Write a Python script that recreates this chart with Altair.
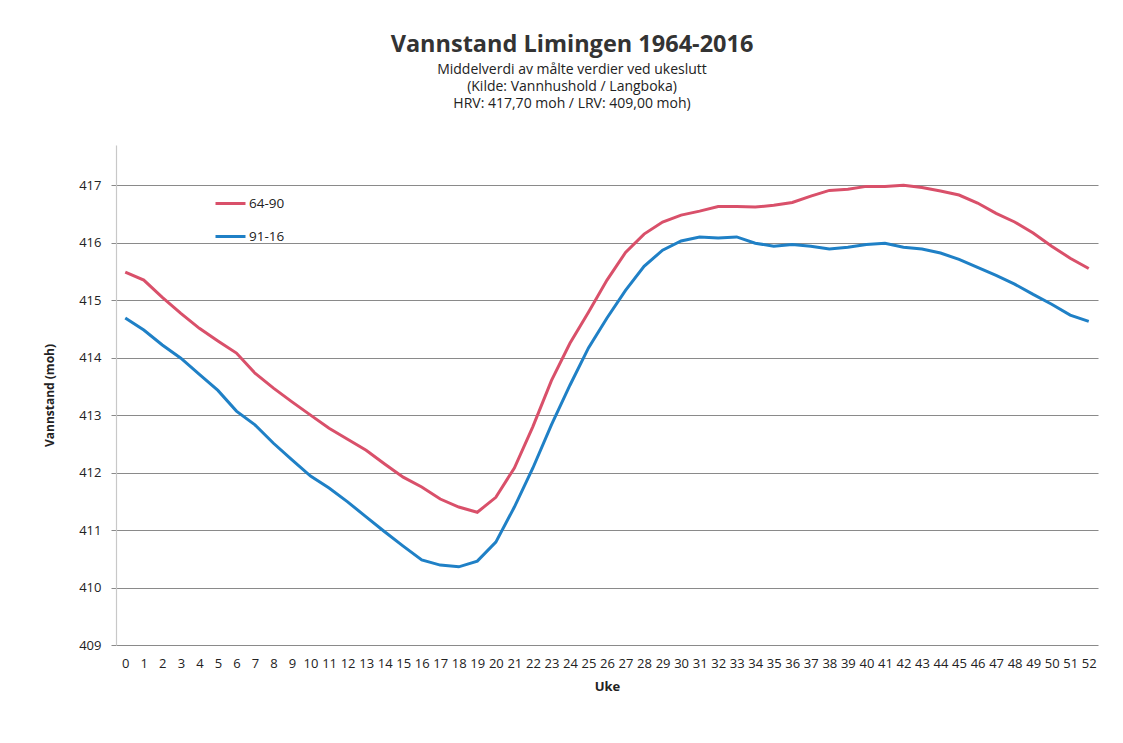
import altair as alt
import pandas as pd

weeks = list(range(53))
s_6490 = [415.49, 415.35, 415.05, 414.77, 414.51, 414.29, 414.08, 413.73, 413.47, 413.23,
          413.00, 412.77, 412.58, 412.39, 412.15, 411.92, 411.75, 411.54, 411.40, 411.31,
          411.57, 412.08, 412.80, 413.60, 414.25, 414.79, 415.35, 415.83, 416.15, 416.36,
          416.48, 416.55, 416.63, 416.63, 416.62, 416.65, 416.70, 416.81, 416.91, 416.93,
          416.98, 416.98, 417.00, 416.96, 416.90, 416.83, 416.69, 416.51, 416.36, 416.17,
          415.94, 415.73, 415.55]
s_9116 = [414.69, 414.48, 414.22, 413.99, 413.71, 413.43, 413.07, 412.83, 412.51, 412.22,
          411.94, 411.73, 411.49, 411.23, 410.97, 410.72, 410.48, 410.39, 410.36, 410.46,
          410.79, 411.40, 412.08, 412.83, 413.52, 414.17, 414.69, 415.17, 415.59, 415.87,
          416.03, 416.10, 416.08, 416.10, 415.99, 415.94, 415.97, 415.94, 415.89, 415.92,
          415.97, 415.99, 415.92, 415.89, 415.82, 415.71, 415.57, 415.43, 415.28, 415.10,
          414.93, 414.74, 414.63]
series_names = ["64-90", "91-16"]
colors = ["#d9506a", "#1f80c6"]
y_ticks = [409, 410, 411, 412, 413, 414, 415, 416, 417]

rows = []
for w, a, b in zip(weeks, s_6490, s_9116):
    rows.append({"Uke": w, "Serie": series_names[0], "v": a})
    rows.append({"Uke": w, "Serie": series_names[1], "v": b})
df = pd.DataFrame(rows)

FONT = "Open Sans"

chart = alt.Chart(df).mark_line(strokeWidth=3).encode(
    x=alt.X("Uke:Q",
            scale=alt.Scale(domain=[-0.5, 52.5], nice=False, zero=False),
            axis=alt.Axis(values=weeks, title="Uke", grid=False, ticks=False,
                          domain=False, labelFontSize=13, labelPadding=12,
                          labelColor="#222", titleFontSize=13, titleFontWeight="bold",
                          titleColor="#222", titlePadding=10, labelFont=FONT,
                          titleFont=FONT, labelFlush=False)),
    y=alt.Y("v:Q",
            scale=alt.Scale(domain=[409, 417.7], nice=False, zero=False),
            axis=alt.Axis(values=y_ticks, title="Vannstand (moh)", grid=True,
                          gridColor="#8a8a8a", gridWidth=1.2, tickColor="#8a8a8a",
                          tickSize=5, domainColor="#c8c8c8", domainWidth=1.2,
                          labelFontSize=13, labelPadding=10, labelColor="#222",
                          titleFontSize=12, titleFontWeight="bold", titleColor="#222",
                          titlePadding=22, labelFont=FONT, titleFont=FONT)),
    color=alt.Color("Serie:N",
                    scale=alt.Scale(domain=series_names, range=colors),
                    legend=alt.Legend(orient="none", legendX=98, legendY=42,
                                      title=None, symbolType="stroke",
                                      symbolSize=900, symbolStrokeWidth=3,
                                      labelFontSize=13.5, labelFont=FONT,
                                      labelColor="#222", labelOffset=2,
                                      rowPadding=10)),
).properties(
    width=982,
    height=500,
    title=alt.TitleParams(
        text="Vannstand Limingen 1964-2016",
        subtitle=["Middelverdi av målte verdier ved ukeslutt",
                  "(Kilde: Vannhushold / Langboka)",
                  "HRV: 417,70 moh / LRV: 409,00 moh)"],
        font=FONT, fontSize=23.5, fontWeight="bold", color="#333",
        subtitleFont=FONT, subtitleFontSize=14, subtitleColor="#222",
        subtitlePadding=7, subtitleLineHeight=17,
        anchor="middle", dx=-35, offset=34),
    autosize=alt.AutoSizeParams(type="none"),
    padding={"left": 108, "top": 137, "right": 17, "bottom": 90},
).configure(background="white").configure_view(stroke=None, strokeWidth=0)

chart.save("out.html", embed_options={"renderer": "svg", "actions": False})
